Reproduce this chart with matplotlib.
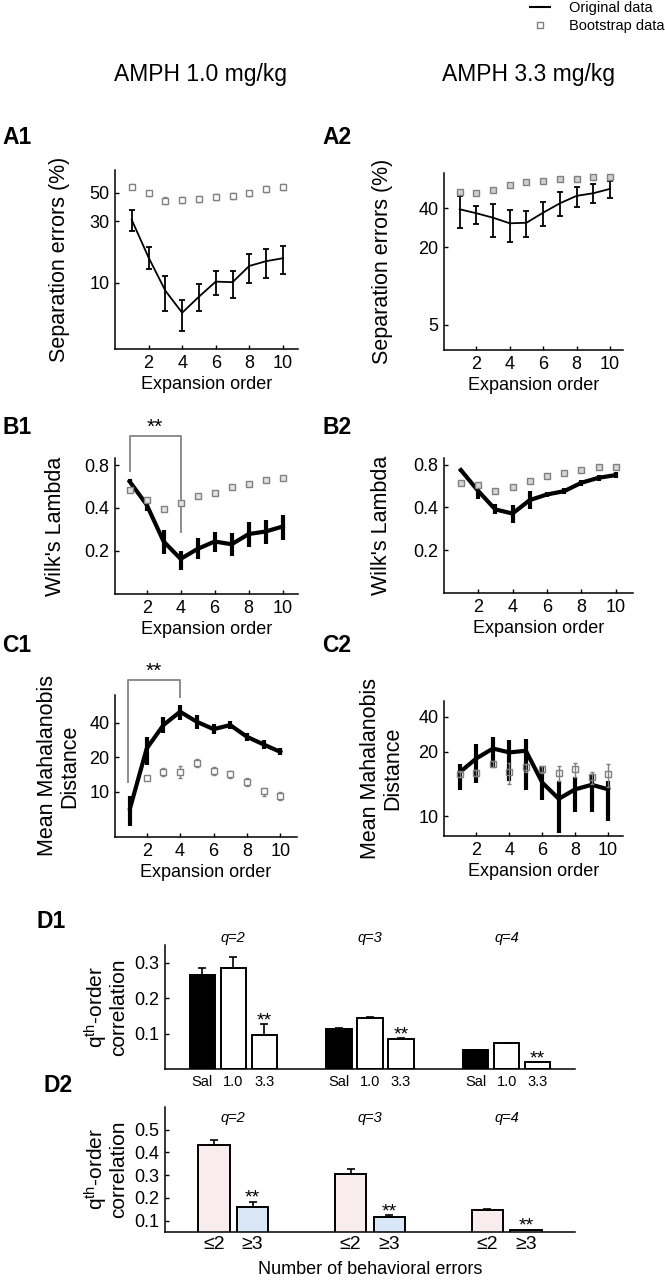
import numpy as np
import matplotlib
matplotlib.use("Agg")
import matplotlib.pyplot as plt
from matplotlib.lines import Line2D
from matplotlib.ticker import NullLocator

plt.rcParams['font.family'] = ['Liberation Sans', 'DejaVu Sans']
plt.rcParams['mathtext.fontset'] = 'custom'
plt.rcParams['mathtext.rm'] = 'Liberation Sans'
plt.rcParams['mathtext.it'] = 'Liberation Sans:italic'

# expansion order (x axis of panels A-C)
orders = [1, 2, 3, 4, 5, 6, 7, 8, 9, 10]

# A1 separation errors (%), AMPH 1.0
a1_orig = [30.7, 15.7, 8.67, 5.85, 7.79, 10.2, 10.1, 13.5, 14.7, 15.5]
a1_lo = [25.2, 12.8, 6.06, 4.24, 6.06, 8.03, 7.65, 10.0, 10.8, 11.7]
a1_hi = [36.6, 18.9, 11.3, 7.35, 9.7, 12.4, 12.4, 16.6, 18.4, 19.4]
a1_boot = [55.6, 49.4, 43.4, 43.9, 44.9, 46.5, 47.4, 49.4, 53.7, 55.6]
a1_boot_err = [2.5, 2.5, 2.5, 2.5, 2.5, 2.5, 2.5, 2.5, 2.7, 3.0]

# A2 separation errors (%), AMPH 3.3
a2_orig = [39.3, 36.6, 33.8, 30.6, 30.9, 37.0, 43.7, 49.9, 52.3, 56.5]
a2_lo = [28.3, 30.0, 23.8, 22.0, 24.0, 29.1, 34.8, 40.7, 43.7, 48.3]
a2_hi = [49.9, 41.7, 43.4, 38.8, 38.3, 45.0, 53.8, 58.9, 61.9, 65.3]
a2_boot = [53.3, 52.3, 55.1, 60.4, 64.1, 65.6, 66.9, 67.7, 70.3, 69.6]
a2_boot_err = [1.2, 1.2, 1.2, 1.2, 1.2, 1.2, 1.2, 1.2, 1.2, 1.2]

# B1 / B2 Wilk's lambda
b1_orig = [0.615, 0.422, 0.232, 0.175, 0.206, 0.232, 0.222, 0.262, 0.273, 0.296]
b1_lo = [0.600, 0.380, 0.190, 0.145, 0.175, 0.195, 0.184, 0.214, 0.224, 0.236]
b1_hi = [0.645, 0.460, 0.281, 0.200, 0.244, 0.273, 0.266, 0.316, 0.331, 0.358]
b1_boot = [0.532, 0.452, 0.395, 0.434, 0.488, 0.510, 0.558, 0.593, 0.626, 0.650]
b1_boot_err = [0.015, 0.013, 0.011, 0.012, 0.013, 0.014, 0.015, 0.016, 0.017, 0.018]

b2_orig = [0.732, 0.523, 0.387, 0.362, 0.450, 0.493, 0.520, 0.596, 0.646, 0.675]
b2_lo = [0.710, 0.455, 0.360, 0.312, 0.387, 0.470, 0.500, 0.570, 0.615, 0.640]
b2_hi = [0.750, 0.596, 0.420, 0.415, 0.520, 0.515, 0.545, 0.625, 0.680, 0.710]
b2_boot = [0.596, 0.574, 0.523, 0.552, 0.615, 0.664, 0.693, 0.732, 0.764, 0.775]
b2_boot_err = [0.012, 0.012, 0.011, 0.011, 0.012, 0.013, 0.014, 0.015, 0.015, 0.015]

# C1 / C2 mean Mahalanobis distance
c1_orig = [7.2, 23.9, 38.2, 49.9, 40.8, 35.2, 38.2, 30.2, 25.9, 22.3]
c1_lo = [5.0, 17.1, 32.7, 42.2, 35.2, 32.0, 35.0, 27.8, 23.8, 20.8]
c1_hi = [9.2, 29.9, 45.1, 57.0, 46.7, 38.8, 41.6, 32.9, 28.2, 23.9]
c1_boot = [np.nan, 13.3, 14.9, 14.9, 18.0, 15.2, 14.2, 12.2, 10.1, 9.2]
c1_boot_err = [0.0, 0.5, 1.2, 1.8, 1.4, 1.2, 1.1, 1.0, 0.8, 0.75]

c2_orig = [15.3, 18.2, 21.0, 19.8, 20.3, 13.6, 11.6, 12.7, 13.3, 12.7]
c2_lo = [12.6, 13.5, 16.0, 13.9, 12.6, 11.5, 8.8, 10.3, 10.3, 9.6]
c2_hi = [17.0, 22.4, 25.3, 24.1, 24.8, 16.2, 13.8, 14.5, 15.0, 13.8]
c2_boot = [14.9, 15.1, 16.9, 15.3, 16.2, 15.8, 15.1, 15.8, 14.4, 14.9]
c2_boot_err = [0.5, 0.5, 0.7, 1.9, 0.8, 0.7, 1.3, 1.4, 1.0, 1.9]

# D1 q-th order correlation by dose
q_labels = ['q=2', 'q=3', 'q=4']
dose_labels = ['Sal', '1.0', '3.3']
d1_sal = [0.264, 0.1135, 0.0535]
d1_sal_err = [0.022, 0.003, 0.0015]
d1_low = [0.286, 0.145, 0.072]
d1_low_err = [0.029, 0.003, 0.002]
d1_high = [0.096, 0.085, 0.0186]
d1_high_err = [0.032, 0.0015, 0.0014]

# D2 q-th order correlation by number of behavioural errors
error_labels = ['≤2', '≥3']
d2_few = [0.435, 0.305, 0.148]
d2_few_err = [0.019, 0.021, 0.004]
d2_many = [0.158, 0.114, 0.057]
d2_many_err = [0.026, 0.010, 0.004]

W, H = 665, 1280
fig = plt.figure(figsize=(W / 100, H / 100), dpi=100)
GRAY = '#808080'


def add_ax(l, t, r, b):
    return fig.add_axes([l / W, 1 - b / H, (r - l) / W, (b - t) / H])


def basic_style(ax, tick_size):
    for s in ['top', 'right']:
        ax.spines[s].set_visible(False)
    for s in ['left', 'bottom']:
        ax.spines[s].set_linewidth(1.1)
    ax.tick_params(direction='in', length=3, width=1, labelsize=tick_size, pad=4)


def label_right_px(ax, px_right, l, r):
    # put right edge of the y label at a pixel position
    ax.yaxis.set_label_coords((px_right - l) / (r - l), 0.5)


def expansion_panel(box, orig, lo, hi, boot, berr, thick, xlim, ylim, yticks,
                    ylabel, ylabel_px, face, scale='log'):
    l, t, r, b = box
    ax = add_ax(l, t, r, b)
    if scale == 'log':
        ax.set_yscale('log')
    else:
        ax.set_yscale('function', functions=scale)
    orig = np.array(orig)
    yerr = [orig - np.array(lo), np.array(hi) - orig]
    if thick:
        ax.errorbar(orders, orig, yerr=yerr, color='k', lw=3, elinewidth=3,
                    capsize=0, zorder=2)
    else:
        ax.errorbar(orders, orig, yerr=yerr, color='k', lw=1.3, elinewidth=1.3,
                    capsize=2, capthick=1.3, zorder=2)
    ax.errorbar(orders, boot, yerr=berr, fmt='s', ms=5, mfc=face, mec=GRAY, mew=1,
                ecolor=GRAY, elinewidth=1, capsize=1.5, capthick=1, zorder=3)
    ax.set_xlim(*xlim)
    ax.set_ylim(*ylim)
    ax.set_xticks([2, 4, 6, 8, 10])
    ax.set_yticks(yticks, labels=[f'{v:g}' for v in yticks])
    ax.yaxis.set_minor_locator(NullLocator())
    basic_style(ax, 13)
    ax.set_xlabel('Expansion order', fontsize=13, labelpad=3)
    ax.set_ylabel(ylabel, fontsize=15.5, linespacing=1.05)
    label_right_px(ax, ylabel_px, l, r)
    return ax


def c2_fwd(v):
    v = np.asarray(v, dtype=float)
    return -np.power(np.clip(v, 1e-6, None), -0.88)


def c2_inv(f):
    f = np.asarray(f, dtype=float)
    return np.power(np.clip(-f, 1e-9, None), -1 / 0.88)


axA1 = expansion_panel((115, 170, 298, 349), a1_orig, a1_lo, a1_hi, a1_boot, a1_boot_err,
                       False, (0, 10.9), (3.06, 75), [10, 30, 50],
                       'Separation errors (%)', 70, 'white')
axA2 = expansion_panel((444, 173, 623, 350), a2_orig, a2_lo, a2_hi, a2_boot, a2_boot_err,
                       False, (0.06, 10.78), (3.2, 75), [5, 20, 40],
                       'Separation errors (%)', 393, '#cfcfcf')
axB1 = expansion_panel((115, 458, 298, 594), b1_orig, b1_lo, b1_hi, b1_boot, b1_boot_err,
                       True, (0.14, 10.9), (0.099, 0.9), [0.2, 0.4, 0.8],
                       "Wilk's Lambda", 66, '#e3e3e3')
axB2 = expansion_panel((444, 458, 633, 593), b2_orig, b2_lo, b2_hi, b2_boot, b2_boot_err,
                       True, (0.02, 11.0), (0.1, 0.89), [0.2, 0.4, 0.8],
                       "Wilk's Lambda", 392, '#d5d5d5')
axC1 = expansion_panel((115, 695, 297, 837), c1_orig, c1_lo, c1_hi, c1_boot, c1_boot_err,
                       True, (0.1, 11.0), (4.05, 69.8), [10, 20, 40],
                       'Mean Mahalanobis\nDistance', 80, 'white')
axC2 = expansion_panel((444, 701, 623, 836), c2_orig, c2_lo, c2_hi, c2_boot, c2_boot_err,
                       True, (0.03, 10.9), (8.6, 69), [10, 20, 40],
                       'Mean Mahalanobis\nDistance', 403, 'none', scale=(c2_fwd, c2_inv))

# significance brackets
axB1.plot([1, 1, 4, 4], [0.723, 1.29, 1.29, 0.269], color='#8c8c8c', lw=1.4, clip_on=False)
axB1.annotate('**', (2.5, 1.29), xytext=(0, 2), textcoords='offset points',
              ha='center', va='baseline', fontsize=15, annotation_clip=False)
axC1.plot([0.86, 0.86, 4, 4], [12.2, 94.3, 94.3, 67.5], color='#8c8c8c', lw=1.4, clip_on=False)
axC1.annotate('**', (2.43, 94.3), xytext=(0, 2), textcoords='offset points',
              ha='center', va='baseline', fontsize=15, annotation_clip=False)

# D panels
groups = np.array([1, 2, 3])


def bar_panel(box, ylim, yticks):
    l, t, r, b = box
    ax = add_ax(l, t, r, b)
    ax.set_xlim(0.5, 3.5)
    ax.set_ylim(*ylim)
    ax.set_yticks(yticks, labels=[f'{v:g}' for v in yticks])
    basic_style(ax, 13)
    ax.set_ylabel('q$^{\\mathrm{th}}$-order\ncorrelation', fontsize=15, linespacing=0.95)
    label_right_px(ax, 128, l, r)
    return ax


def stars(ax, x, top):
    ax.annotate('**', (x, top), xytext=(0, -1), textcoords='offset points',
                ha='center', va='baseline', fontsize=14)


bar_kw = dict(edgecolor='k', linewidth=1.4, zorder=2)
err_kw = dict(ecolor='k', elinewidth=1.2, capsize=3, capthick=1.2)

axD1 = bar_panel((165, 945, 575, 1069), (0, 0.35), [0.1, 0.2, 0.3])
w1, off1 = 0.185, 0.227
zeros = [0, 0, 0]
axD1.bar(groups - off1, d1_sal, w1, color='k', yerr=[zeros, d1_sal_err], error_kw=err_kw, **bar_kw)
axD1.bar(groups, d1_low, w1, color='white', yerr=[zeros, d1_low_err], error_kw=err_kw, **bar_kw)
axD1.bar(groups + off1, d1_high, w1, color='white', yerr=[zeros, d1_high_err], error_kw=err_kw, **bar_kw)
pos1 = np.concatenate([groups - off1, groups, groups + off1])
axD1.set_xticks(np.sort(pos1), labels=dose_labels * 3)
axD1.tick_params(axis='x', length=0, labelsize=10.5, pad=4)
for g, lab in zip(groups, q_labels):
    axD1.text(g, 1.055, lab, transform=axD1.get_xaxis_transform(), ha='center', va='center',
              fontsize=10.5, style='italic')
for g, v, e in zip(groups, d1_high, d1_high_err):
    stars(axD1, g + off1, v + e)

axD2 = bar_panel((165, 1107, 575, 1232), (0.05, 0.6), [0.1, 0.2, 0.3, 0.4, 0.5])
w2, off2 = 0.23, 0.1415
axD2.bar(groups - off2, d2_few, w2, color='#f8ecec', yerr=[zeros, d2_few_err], error_kw=err_kw, **bar_kw)
axD2.bar(groups + off2, d2_many, w2, color='#d9e7f6', yerr=[zeros, d2_many_err], error_kw=err_kw, **bar_kw)
pos2 = np.concatenate([groups - off2, groups + off2])
axD2.set_xticks(np.sort(pos2), labels=error_labels * 3)
axD2.tick_params(axis='x', length=0, labelsize=14, pad=3)
for g, lab in zip(groups, q_labels):
    axD2.text(g, 0.91, lab, transform=axD2.get_xaxis_transform(), ha='center', va='center',
              fontsize=10.5, style='italic')
for g, v, e in zip(groups, d2_many, d2_many_err):
    stars(axD2, g + off2, v + e)
axD2.set_xlabel('Number of behavioral errors', fontsize=13, labelpad=6)

# column titles
fig.text(200 / W, 1 - 75 / H, 'AMPH 1.0 mg/kg', ha='center', va='center', fontsize=16.5)
fig.text(528 / W, 1 - 75 / H, 'AMPH 3.3 mg/kg', ha='center', va='center', fontsize=16.5)

# panel letters
for txt, x, y in [('A1', 2, 138), ('A2', 322, 138), ('B1', 2, 428), ('B2', 322, 428),
                  ('C1', 2, 646), ('C2', 322, 646), ('D1', 36, 921), ('D2', 44, 1085)]:
    fig.text(x / W, 1 - y / H, txt, ha='left', va='center', fontsize=16.5, fontweight='bold')

# legend
handles = [Line2D([], [], color='k', lw=1.5),
           Line2D([], [], marker='s', ls='none', ms=5, mfc='white', mec=GRAY, mew=1)]
fig.legend(handles, ['Original data', 'Bootstrap data'], loc='upper left',
           bbox_to_anchor=(530 / W, 1.0 - 1 / H), frameon=False, fontsize=10.5,
           handlelength=1.4, handletextpad=1.3, labelspacing=0.3, borderpad=0,
           borderaxespad=0)

fig.savefig('out.png', dpi=100)
